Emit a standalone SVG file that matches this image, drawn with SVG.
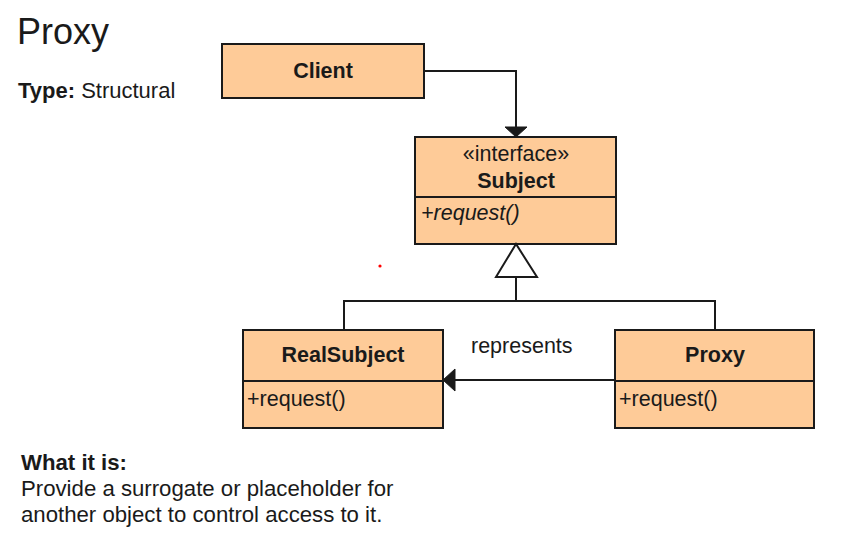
<svg xmlns="http://www.w3.org/2000/svg" width="867" height="535" viewBox="0 0 867 535">
<style>
text { font-family: "Liberation Sans", Arial, Helvetica, sans-serif; fill: #1a1a1a; }
.box { fill: #FECB98; stroke: #1a1a1a; stroke-width: 2; }
.div { stroke: #1a1a1a; stroke-width: 2; }
.lbl { font-size: 21.5px; }
.b { font-weight: bold; }
.c { text-anchor: middle; }
.conn { fill: none; stroke: #1a1a1a; stroke-width: 2; }
.head { fill: #1a1a1a; stroke: #1a1a1a; stroke-width: 1; }
.desc { font-size: 22.2px; }
</style>
<rect width="867" height="535" fill="#ffffff"/>
<g id="title">
<text x="17" y="44" font-size="36">Proxy</text>
<text x="18" y="98" font-size="22"><tspan class="b">Type:</tspan> Structural</text>
</g>
<g id="client">
<rect class="box" x="222" y="44" width="202" height="54"/>
<text class="lbl b c" x="323" y="78">Client</text>
</g>
<g id="subject">
<rect class="box" x="415" y="137" width="201" height="107"/>
<line class="div" x1="415" y1="197" x2="616" y2="197"/>
<text class="lbl c" x="516" y="161">«interface»</text>
<text class="lbl b c" x="516" y="188">Subject</text>
<text class="lbl" x="421" y="220" font-style="italic">+request()</text>
</g>
<g id="realsubject">
<rect class="box" x="243" y="330" width="200" height="98"/>
<line class="div" x1="243" y1="381" x2="443" y2="381"/>
<text class="lbl b c" x="343" y="362">RealSubject</text>
<text class="lbl" x="247" y="406">+request()</text>
</g>
<g id="proxy">
<rect class="box" x="615" y="330" width="199" height="98"/>
<line class="div" x1="615" y1="381" x2="814" y2="381"/>
<text class="lbl b c" x="715" y="362">Proxy</text>
<text class="lbl" x="619" y="406">+request()</text>
</g>
<g id="connectors">
<polyline class="conn" points="424,71 516,71 516,128"/>
<polygon class="head" points="505,127 527,127 516,137"/>
<polyline class="conn" points="516,277 516,301"/>
<polyline class="conn" points="344,330 344,301 715,301 715,330"/>
<polygon points="516,244 496,277 537,277" fill="#ffffff" stroke="#1a1a1a" stroke-width="2"/>
<line class="conn" x1="615" y1="380" x2="454" y2="380"/>
<polygon class="head" points="443,380 455,369 455,391"/>
<text class="lbl" x="471" y="353">represents</text>
</g>
<g id="description">
<text x="21" y="470" class="desc b">What it is:</text>
<text x="21" y="496" class="desc">Provide a surrogate or placeholder for</text>
<text x="21" y="522" class="desc">another object to control access to it.</text>
</g>
<circle cx="380" cy="266" r="1.6" fill="#ff0000"/>
</svg>
